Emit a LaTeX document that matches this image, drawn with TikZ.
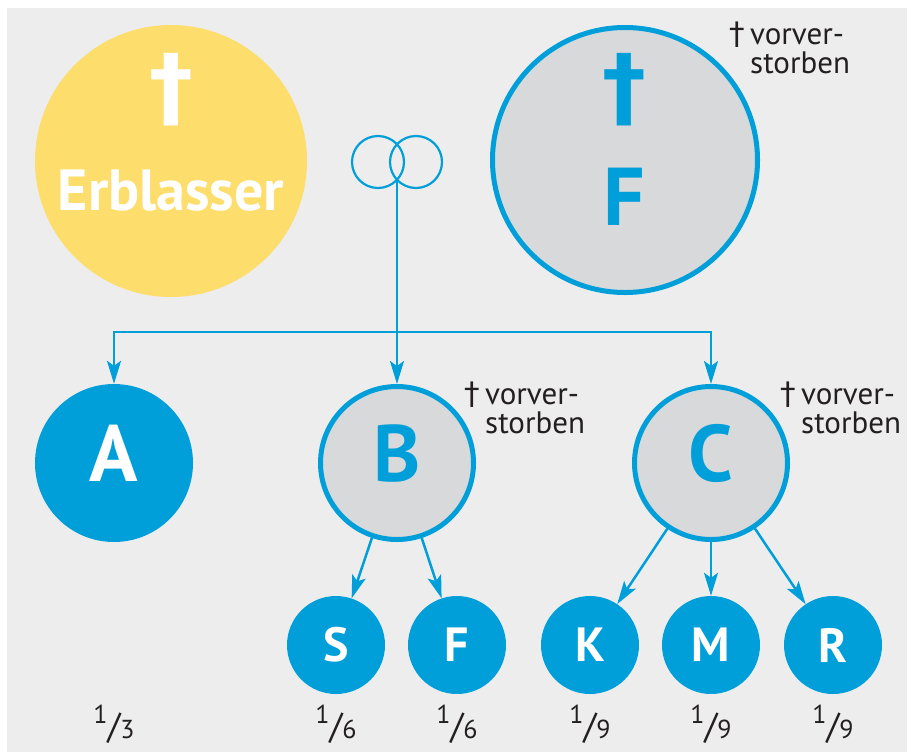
\documentclass[tikz,border=0pt]{standalone}
\usepackage{fontspec}
\setmainfont{PT Sans}[Numbers=Lining]
\newfontfamily\crossfont{DejaVu Sans}
\usetikzlibrary{arrows.meta}
\definecolor{bggray}{HTML}{EDEDED}
\definecolor{erbyellow}{HTML}{FDDD6B}
\definecolor{famblue}{HTML}{009FDA}
\definecolor{deadgray}{HTML}{D8D9DB}
\definecolor{inkdark}{HTML}{231F20}
\newcommand{\share}[2]{\raisebox{15pt}{\fontsize{26}{26}\selectfont#1}{\fontsize{36}{36}\selectfont/}{\fontsize{26}{26}\selectfont#2}}
\newcommand{\obit}{{\crossfont\fontsize{31}{31}\selectfont†}\kern5pt}

\begin{document}
\begin{tikzpicture}[x=1pt,y=-1pt,
		testator/.style={circle,fill=erbyellow,minimum size=272pt,inner sep=0pt},
		heir/.style={circle,fill=famblue,text=white,minimum size=158pt,inner sep=0pt,
			font=\bfseries\fontsize{80}{80}\selectfont,text height=56pt,text depth=20pt},
		predeceased/.style={circle,draw=famblue,line width=5pt,fill=deadgray,text=famblue,
			minimum size=153pt,inner sep=0pt,
			font=\bfseries\fontsize{80}{80}\selectfont,text height=56pt,text depth=20pt},
		grandchild/.style={circle,fill=famblue,text=white,minimum size=98pt,inner sep=0pt,
			font=\bfseries\fontsize{48}{48}\selectfont},
		ring/.style={circle,draw=famblue,line width=2.2pt,minimum size=52pt,inner sep=0pt},
		link/.style={draw=famblue,line width=2.5pt,-{Stealth[length=23pt,width=14pt,inset=5pt]}},
		cross/.style={font=\crossfont\bfseries\fontsize{88}{88}\selectfont,inner sep=0pt},
		tag/.style={text=inkdark,font=\fontsize{31}{29}\selectfont,align=left,inner sep=0pt,anchor=base west},
		quota/.style={text=inkdark,inner sep=0pt,anchor=base}]
		\fill[white] (0,0) rectangle (907,753);
		\fill[bggray] (7,8) rectangle (907,752);

		\node[testator] (erb) at (171,161) {};
		\node[cross,text=white] (erbcross) at (171,90) {†};
		\node[text=white,font=\bfseries\fontsize{58}{58}\selectfont,anchor=base,inner sep=0pt] (erbname) at (171,210) {Erblasser};

		\node[ring] (ringL) at (378,162) {};
		\node[ring] (ringR) at (416,162) {};
		\coordinate (wed) at (397,180);
		\coordinate (fork) at (397,332);

		\node[predeceased,minimum size=265pt,text height=0pt,text depth=0pt] (deadF) at (625,160) {};
		\node[cross,text=famblue] (deadFcross) at (624,90) {†};
		\node[text=famblue,font=\bfseries\fontsize{82}{82}\selectfont,anchor=base,inner sep=0pt] (deadFname) at (624,225) {F};
		\node[tag] (tagF) at (750,73) {\llap{\obit}vorver-\\storben};

		\node[heir] (A) at (114,463) {A};
		\node[predeceased] (B) at (397,463) {B};
		\node[predeceased] (C) at (711,463) {C};
		\node[tag] (tagB) at (485,433) {\llap{\obit}vorver-\\storben};
		\node[tag] (tagC) at (801,433) {\llap{\obit}vorver-\\storben};

		\draw[link] (wed) -- (B);
		\draw[link] (fork) -| (A);
		\draw[link] (fork) -| (C);

		\node[grandchild] (S) at (336,645) {S};
		\node[grandchild] (F) at (457,645) {F};
		\node[grandchild] (K) at (590,645) {K};
		\node[grandchild] (M) at (711,645) {M};
		\node[grandchild] (R) at (833,645) {R};

		\draw[link] (B) -- (S);
		\draw[link] (B) -- (F);
		\draw[link] (C) -- (K);
		\draw[link] (C) -- (M);
		\draw[link] (C) -- (R);

		\node[quota] (qA) at (114,738) {\share{1}{3}};
		\node[quota] (qS) at (336,738) {\share{1}{6}};
		\node[quota] (qF) at (457,738) {\share{1}{6}};
		\node[quota] (qK) at (590,738) {\share{1}{9}};
		\node[quota] (qM) at (711,738) {\share{1}{9}};
		\node[quota] (qR) at (833,738) {\share{1}{9}};
	\end{tikzpicture}
\end{document}
